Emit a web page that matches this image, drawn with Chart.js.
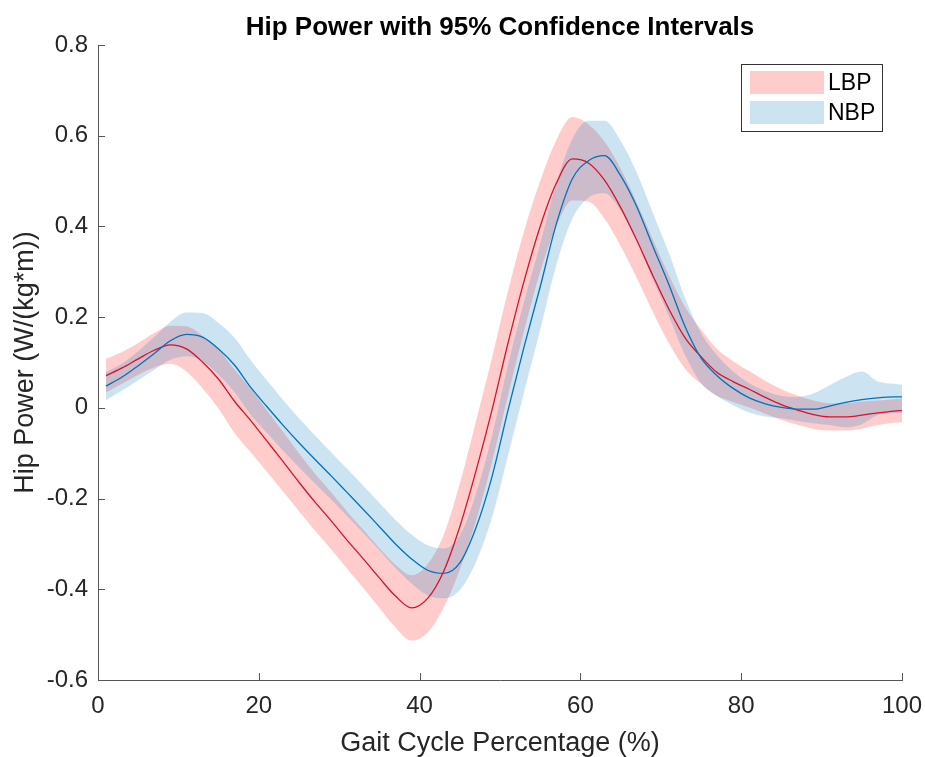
<!DOCTYPE html>
<html><head><meta charset="utf-8">
<script src="https://cdn.jsdelivr.net/npm/chart.js@4.4.1/dist/chart.umd.min.js"></script>
<style>html,body{margin:0;padding:0;background:#fff}#wrap{width:925px;height:757px}</style>
</head><body><div id="wrap"><canvas id="c" width="925" height="757"></canvas></div>
<script>
// ---- data ----
const xs = [1,3,5,7,9,11,13,15,17,19,21,23,25,27,29,31,33,35,37,39,41,43,45,47,49,51,53,55,57,59,61,63,65,67,69,71,73,75,77,79,81,83,85,87,89,91,93,95,97,99,100];

const lbpMean = [0.071,0.088,0.108,0.127,0.139,0.130,0.101,0.063,0.014,-0.028,
  -0.073,-0.118,-0.164,-0.208,-0.249,-0.292,-0.333,-0.375,-0.415,-0.441,
  -0.420,-0.360,-0.262,-0.140,-0.005,0.143,0.280,0.400,0.495,0.549,
  0.540,0.502,0.442,0.370,0.292,0.218,0.155,0.113,0.078,0.058,
  0.041,0.023,0.007,-0.005,-0.015,-0.020,-0.020,-0.016,-0.011,-0.007,
  -0.006];
const lbpUpper = [0.108,0.123,0.143,0.165,0.181,0.180,0.159,0.128,0.084,0.042,
  -0.005,-0.052,-0.100,-0.145,-0.186,-0.229,-0.269,-0.309,-0.346,-0.369,
  -0.345,-0.280,-0.167,-0.030,0.110,0.258,0.390,0.500,0.590,0.641,
  0.625,0.587,0.527,0.453,0.372,0.293,0.223,0.173,0.130,0.103,
  0.081,0.059,0.041,0.027,0.016,0.010,0.010,0.014,0.016,0.019,
  0.020];
const lbpLower = [0.034,0.053,0.073,0.089,0.097,0.080,0.043,-0.002,-0.056,-0.098,
  -0.141,-0.184,-0.228,-0.271,-0.312,-0.355,-0.397,-0.441,-0.484,-0.513,
  -0.495,-0.440,-0.357,-0.250,-0.120,0.028,0.170,0.300,0.400,0.457,
  0.455,0.417,0.357,0.287,0.212,0.143,0.087,0.053,0.026,0.013,
  0.001,-0.013,-0.027,-0.037,-0.046,-0.050,-0.050,-0.046,-0.038,-0.033,
  -0.032];

const nbpMean = [0.048,0.068,0.093,0.120,0.148,0.162,0.156,0.130,0.094,0.045,
  0.003,-0.038,-0.077,-0.114,-0.150,-0.187,-0.224,-0.262,-0.300,-0.333,
  -0.358,-0.365,-0.342,-0.265,-0.152,-0.005,0.135,0.267,0.405,0.505,
  0.545,0.556,0.512,0.444,0.357,0.272,0.180,0.110,0.071,0.043,
  0.022,0.009,0.001,-0.003,-0.003,0.004,0.012,0.018,0.022,0.024,
  0.024];
const nbpUpper = [0.079,0.098,0.125,0.156,0.190,0.210,0.209,0.187,0.154,0.105,
  0.061,0.018,-0.023,-0.061,-0.098,-0.135,-0.172,-0.210,-0.247,-0.279,
  -0.303,-0.310,-0.282,-0.190,-0.062,0.095,0.235,0.362,0.495,0.593,
  0.633,0.633,0.589,0.519,0.430,0.342,0.243,0.165,0.116,0.080,
  0.054,0.037,0.026,0.024,0.032,0.050,0.068,0.080,0.058,0.053,
  0.051];
const nbpLower = [0.017,0.038,0.061,0.084,0.106,0.114,0.103,0.073,0.034,-0.015,
  -0.055,-0.094,-0.131,-0.167,-0.202,-0.239,-0.276,-0.314,-0.353,-0.387,
  -0.413,-0.420,-0.402,-0.340,-0.242,-0.105,0.035,0.172,0.315,0.417,
  0.463,0.473,0.435,0.369,0.284,0.202,0.117,0.055,0.026,0.006,
  -0.010,-0.019,-0.023,-0.029,-0.034,-0.038,-0.043,-0.036,-0.016,-0.012,
  -0.011];

const xTicks = [0,20,40,60,80,100];
const yTicks = [-0.6,-0.4,-0.2,0,0.2,0.4,0.6,0.8];
const seriesNames = ['LBP','NBP'];

// ---- styling ----
const FONT = "Arial, 'Liberation Sans', Helvetica, sans-serif";
const RED_FILL = 'rgba(255,0,0,0.2)';
const BLUE_FILL = 'rgba(0,114,189,0.2)';
const RED_LINE = '#d4142e';
const BLUE_LINE = '#0072BD';
const AXIS = '#555555';
const TXT = '#262626';

const pts = ys => xs.map((x, i) => ({x: x, y: ys[i]}));

const base = {pointRadius: 0, pointHoverRadius: 0, cubicInterpolationMode: 'monotone'};

const insideTicks = {
  id: 'insideTicks',
  afterDraw(chart) {
    const {ctx, chartArea: a, scales: {x, y}} = chart;
    ctx.save();
    ctx.strokeStyle = AXIS; ctx.lineWidth = 1;
    ctx.beginPath();
    x.ticks.forEach(t => {
      const px = Math.round(x.getPixelForValue(t.value)) + 0.5;
      ctx.moveTo(px, a.bottom); ctx.lineTo(px, a.bottom - 7);
    });
    y.ticks.forEach(t => {
      const py = Math.round(y.getPixelForValue(t.value)) + 0.5;
      ctx.moveTo(a.left, py); ctx.lineTo(a.left + 7, py);
    });
    ctx.stroke();
    ctx.restore();
  }
};

const boxLegend = {
  id: 'boxLegend',
  afterDraw(chart) {
    const {ctx} = chart;
    ctx.save();
    ctx.fillStyle = '#fff';
    ctx.fillRect(741.5, 64.5, 141, 67);
    ctx.strokeStyle = '#333'; ctx.lineWidth = 1;
    ctx.strokeRect(741.5, 64.5, 141, 67);
    const fills = [RED_FILL, BLUE_FILL];
    const rowsY = [71, 101];
    ctx.font = '23px ' + FONT;
    ctx.textBaseline = 'middle';
    ctx.textAlign = 'left';
    seriesNames.forEach((n, i) => {
      ctx.fillStyle = fills[i];
      ctx.fillRect(750, rowsY[i], 74, 23);
      ctx.fillStyle = '#000';
      ctx.fillText(n, 828, rowsY[i] + 12.5);
    });
    ctx.restore();
  }
};

new Chart(document.getElementById('c'), {
  type: 'line',
  data: {
    datasets: [
      Object.assign({label: 'LBP upper', data: pts(lbpUpper), borderWidth: 0, borderColor: 'rgba(0,0,0,0)',
        backgroundColor: RED_FILL, fill: '+1', order: 6}, base),
      Object.assign({label: 'LBP lower', data: pts(lbpLower), borderWidth: 0, borderColor: 'rgba(0,0,0,0)',
        fill: false, order: 5}, base),
      Object.assign({label: 'NBP upper', data: pts(nbpUpper), borderWidth: 0, borderColor: 'rgba(0,0,0,0)',
        backgroundColor: BLUE_FILL, fill: '+1', order: 4}, base),
      Object.assign({label: 'NBP lower', data: pts(nbpLower), borderWidth: 0, borderColor: 'rgba(0,0,0,0)',
        fill: false, order: 3}, base),
      Object.assign({label: 'LBP', data: pts(lbpMean), borderWidth: 1.3, borderColor: RED_LINE, fill: false, order: 2}, base),
      Object.assign({label: 'NBP', data: pts(nbpMean), borderWidth: 1.3, borderColor: BLUE_LINE, fill: false, order: 1}, base)
    ]
  },
  options: {
    responsive: false,
    animation: false,
    devicePixelRatio: 1,
    layout: {padding: {left: 0, right: 23, top: 0, bottom: 0}},
    plugins: {
      legend: {display: false},
      tooltip: {enabled: false},
      filler: {propagate: false},
      title: {
        display: true,
        fullSize: false,
        text: 'Hip Power with 95% Confidence Intervals',
        color: '#000',
        font: {family: FONT, size: 26, weight: 'bold', lineHeight: 1.2},
        padding: {top: 12, bottom: 1.8}
      }
    },
    scales: {
      x: {
        type: 'linear',
        min: 0, max: 100,
        afterBuildTicks: s => { s.ticks = xTicks.map(v => ({value: v})); },
        afterFit: s => { s.height = 77; s.paddingLeft = 0; s.paddingRight = 0; },
        grid: {display: false, drawTicks: false},
        border: {display: true, color: AXIS, width: 1},
        ticks: {color: TXT, font: {family: FONT, size: 24}, padding: 12, maxRotation: 0,
          callback: v => String(v)},
        title: {display: true, text: 'Gait Cycle Percentage (%)', color: TXT,
          font: {family: FONT, size: 27, lineHeight: 1.2}, padding: {top: 0, bottom: -3}}
      },
      y: {
        type: 'linear',
        min: -0.6, max: 0.8,
        afterBuildTicks: s => { s.ticks = yTicks.map(v => ({value: v})); },
        afterFit: s => { s.width = 98; s.paddingTop = 0; s.paddingBottom = 0; },
        grid: {display: false, drawTicks: false},
        border: {display: true, color: AXIS, width: 1},
        ticks: {color: TXT, font: {family: FONT, size: 24}, padding: 10,
          callback: v => String(Math.round(v * 10) / 10)},
        title: {display: true, text: 'Hip Power (W/(kg*m))', color: TXT,
          font: {family: FONT, size: 27, lineHeight: 1.2}, padding: {top: 9, bottom: 0}}
      }
    }
  },
  plugins: [insideTicks, boxLegend]
});
</script>
</body></html>
